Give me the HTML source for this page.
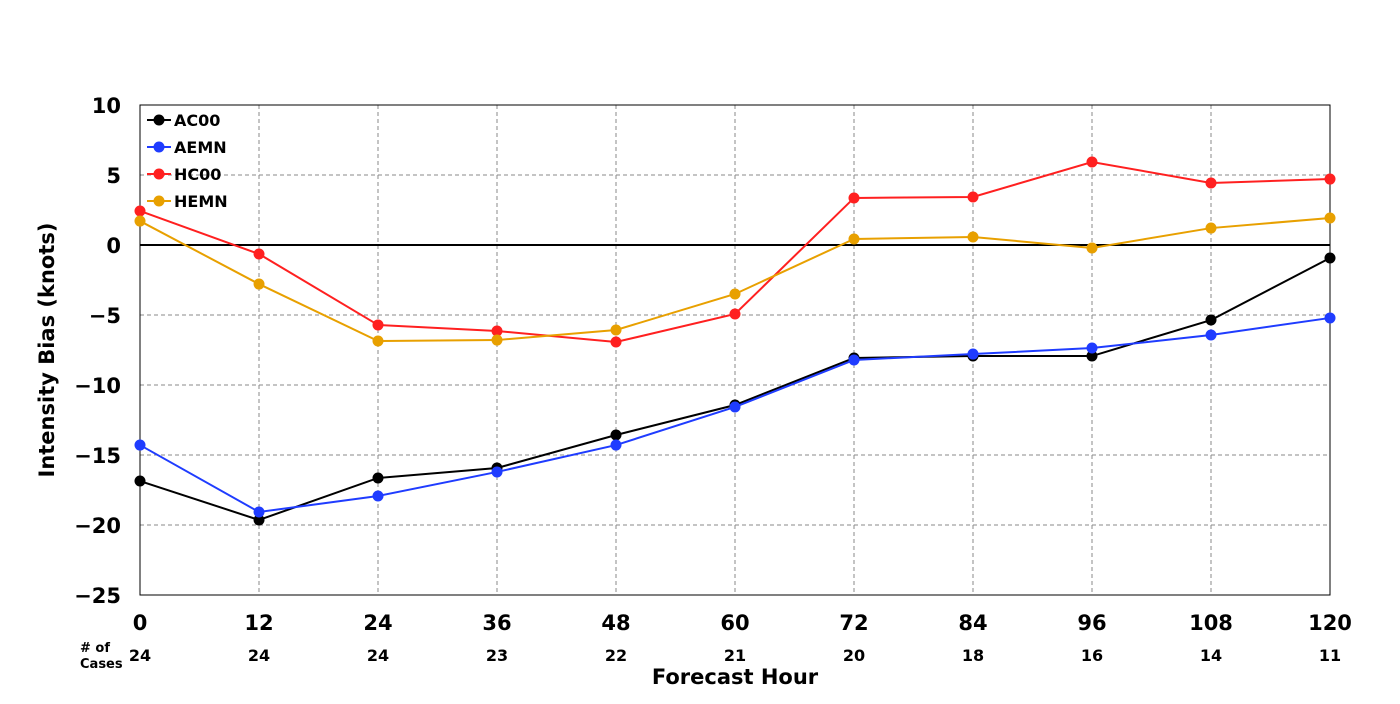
<!DOCTYPE html>
<html><head><meta charset="utf-8"><style>
body{margin:0;background:#fff;font-family:"DejaVu Sans","Liberation Sans",sans-serif;}
svg text{font-family:"DejaVu Sans","Liberation Sans",sans-serif;font-weight:bold;}
</style></head><body>
<svg id="chart" width="1400" height="700" xmlns="http://www.w3.org/2000/svg">
<g id="grid"></g>
<g id="axes"></g>
<g id="series"></g>
<g id="legend"></g>
</svg>
<script>
const hours=[0,12,24,36,48,60,72,84,96,108,120];
const cases=[24,24,24,23,22,21,20,18,16,14,11];
const yTicks=[10,5,0,-5,-10,-15,-20,-25];
const ac00=[-16.86,-19.64,-16.64,-15.93,-13.57,-11.43,-8.07,-7.93,-7.93,-5.36,-0.93];
const aemn=[-14.29,-19.07,-17.93,-16.21,-14.29,-11.57,-8.21,-7.79,-7.36,-6.43,-5.21];
const hc00=[2.43,-0.64,-5.71,-6.14,-6.93,-4.93,3.36,3.43,5.93,4.43,4.71];
const hemn=[1.71,-2.79,-6.86,-6.79,-6.07,-3.5,0.43,0.57,-0.21,1.21,1.93];
const names=["AC00","AEMN","HC00","HEMN"];
const colors=["#000000","#1f3cff","#ff2020","#e8a000"];
const NS="http://www.w3.org/2000/svg";
const X0=140,X1=1330,Y0=105,Y1=595;
const xs=v=>X0+(v-0)/(120-0)*(X1-X0);
const ys=v=>Y0+(10-v)/(10-(-25))*(Y1-Y0);
function mk(tag,attrs,parent){const e=document.createElementNS(NS,tag);for(const k in attrs)e.setAttribute(k,attrs[k]);parent.appendChild(e);return e;}
const grid=document.getElementById('grid'),axes=document.getElementById('axes'),series=document.getElementById('series'),legend=document.getElementById('legend');
hours.forEach((h,i)=>{
 if(i>0&&i<hours.length-1){const l=mk('line',{x1:xs(h),x2:xs(h),y1:Y0,y2:Y1,stroke:'#888','stroke-dasharray':'4,3','stroke-width':1},grid);
 
 }
 const t=mk('text',{x:xs(h),y:630,'text-anchor':'middle','font-size':21},axes);t.textContent=h;
 
 
 const c=mk('text',{x:xs(h),y:661,'text-anchor':'middle','font-size':16},axes);c.textContent=cases[i];
 
 
});
yTicks.forEach(v=>{
 if(v!==10&&v!==-25&&v!==0){const l=mk('line',{x1:X0,x2:X1,y1:ys(v),y2:ys(v),stroke:'#888','stroke-dasharray':'4,3','stroke-width':1},grid);
 
 }
 const t=mk('text',{x:121,y:ys(v)+8,'text-anchor':'end','font-size':21},axes);t.textContent=v<0?'\u2212'+(-v):v;
 
 
});
const zl=mk('line',{x1:X0,x2:X1,y1:ys(0),y2:ys(0),stroke:'#000','stroke-width':2},axes);


const fr=mk('rect',{x:X0,y:Y0,width:X1-X0,height:Y1-Y0,fill:'none',stroke:'#000','stroke-width':1},axes);


const yt=mk('text',{x:54,y:350,'text-anchor':'middle','font-size':21,transform:'rotate(-90 54 350)'},axes);yt.textContent='Intensity Bias (knots)';


const xt=mk('text',{x:735,y:684,'text-anchor':'middle','font-size':21},axes);xt.textContent='Forecast Hour';


const n1=mk('text',{x:80,y:652,'font-size':13},axes);n1.textContent='# of';


const n2=mk('text',{x:80,y:668,'font-size':13},axes);n2.textContent='Cases';


[ac00,aemn,hc00,hemn].forEach((d,si)=>{
 const g=mk('g',{},series);
 
 
 const p=mk('polyline',{points:d.map((v,i)=>xs(hours[i])+','+ys(v)).join(' '),fill:'none',stroke:colors[si],'stroke-width':2},g);
 
 
 d.forEach((v,i)=>{const c=mk('circle',{cx:xs(hours[i]),cy:ys(v),r:5.5,fill:colors[si]},g);
 
 });
 const ly=120+si*27;
 const lg=mk('g',{},legend);
 
 
 mk('line',{x1:147,x2:171,y1:ly,y2:ly,stroke:colors[si],'stroke-width':2},lg);
 mk('circle',{cx:159,cy:ly,r:5.5,fill:colors[si]},lg);
 const t=mk('text',{x:174,y:ly+6,'font-size':16},lg);t.textContent=names[si];
});
</script>
</body></html>
